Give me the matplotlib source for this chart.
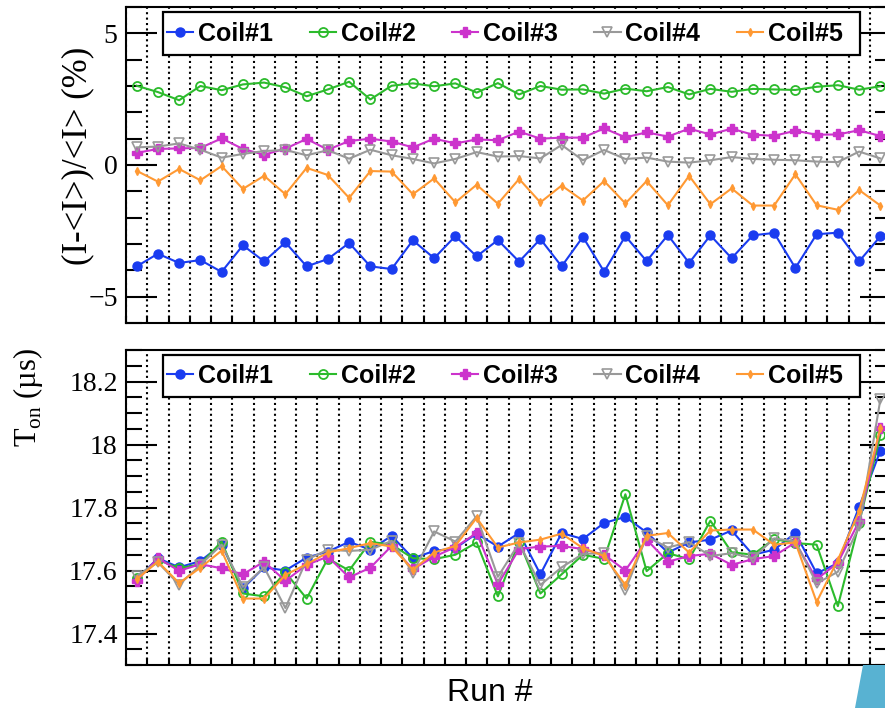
import numpy as np
import matplotlib
matplotlib.use('Agg')
import matplotlib.pyplot as plt
from matplotlib.patches import Rectangle, Polygon

plt.rcParams['font.family'] = 'Liberation Serif'
plt.rcParams['mathtext.fontset'] = 'custom'
plt.rcParams['mathtext.rm'] = 'Liberation Serif'

coils = ['Coil#1', 'Coil#2', 'Coil#3', 'Coil#4', 'Coil#5']
colors = ['#1a3cf0', '#2cbb2c', '#cc33cc', '#999999', '#ff9933']

# relative current deviation (%) per run
dev_c1 = [-3.85, -3.37, -3.72, -3.61, -4.06, -3.05, -3.66, -2.94, -3.85, -3.57, -2.96, -3.85,
          -3.95, -2.86, -3.54, -2.70, -3.47, -2.85, -3.67, -2.81, -3.85, -2.73, -4.05, -2.70,
          -3.65, -2.66, -3.72, -2.67, -3.54, -2.67, -2.58, -3.91, -2.63, -2.57, -3.66, -2.71]
dev_c2 = [3.01, 2.77, 2.46, 3.00, 2.84, 3.06, 3.13, 2.95, 2.61, 2.87, 3.16, 2.49,
          3.01, 3.10, 2.99, 3.10, 2.75, 3.11, 2.68, 3.00, 2.86, 2.87, 2.71, 2.90,
          2.80, 2.96, 2.68, 2.89, 2.78, 2.89, 2.87, 2.85, 2.97, 3.03, 2.86, 2.99]
dev_c3 = [0.46, 0.61, 0.63, 0.65, 1.01, 0.61, 0.39, 0.62, 0.99, 0.58, 0.91, 1.00,
          0.89, 0.67, 1.00, 0.82, 0.97, 0.94, 1.27, 1.00, 1.04, 1.04, 1.39, 1.05,
          1.24, 1.08, 1.38, 1.16, 1.38, 1.15, 1.11, 1.30, 1.15, 1.16, 1.32, 1.10]
dev_c4 = [0.67, 0.70, 0.82, 0.58, 0.28, 0.42, 0.53, 0.57, 0.37, 0.56, 0.24, 0.58,
          0.37, 0.23, 0.06, 0.23, 0.49, 0.32, 0.34, 0.25, 0.76, 0.18, 0.57, 0.23,
          0.28, 0.13, 0.09, 0.18, 0.30, 0.23, 0.20, 0.18, 0.13, 0.11, 0.51, 0.25]
dev_c5 = [-0.22, -0.63, -0.15, -0.58, -0.04, -0.91, -0.41, -1.11, -0.11, -0.38, -1.25, -0.23,
          -0.25, -1.11, -0.51, -1.42, -0.75, -1.47, -0.53, -1.42, -0.78, -1.35, -0.61, -1.46,
          -0.61, -1.53, -0.41, -1.49, -0.89, -1.54, -1.54, -0.35, -1.53, -1.70, -0.95, -1.54]

# T_on (us) per run
ton_c1 = [17.572, 17.639, 17.610, 17.630, 17.682, 17.543, 17.610, 17.600, 17.641, 17.660, 17.691, 17.666,
          17.710, 17.639, 17.662, 17.671, 17.717, 17.676, 17.719, 17.588, 17.719, 17.700, 17.751, 17.770,
          17.721, 17.657, 17.689, 17.698, 17.727, 17.650, 17.666, 17.719, 17.591, 17.623, 17.802, 17.980]
ton_c2 = [17.575, 17.634, 17.607, 17.620, 17.692, 17.527, 17.518, 17.594, 17.511, 17.638, 17.600, 17.691,
          17.682, 17.639, 17.636, 17.650, 17.689, 17.518, 17.692, 17.527, 17.588, 17.650, 17.637, 17.842,
          17.598, 17.655, 17.636, 17.758, 17.658, 17.650, 17.700, 17.687, 17.682, 17.487, 17.751, 18.030]
ton_c3 = [17.567, 17.639, 17.599, 17.620, 17.607, 17.588, 17.628, 17.567, 17.618, 17.644, 17.578, 17.609,
          17.678, 17.604, 17.644, 17.674, 17.719, 17.556, 17.668, 17.676, 17.678, 17.668, 17.650, 17.600,
          17.698, 17.628, 17.646, 17.653, 17.618, 17.636, 17.646, 17.689, 17.572, 17.625, 17.756, 18.052]
ton_c4 = [17.583, 17.626, 17.555, 17.618, 17.682, 17.548, 17.610, 17.481, 17.634, 17.666, 17.662, 17.666,
          17.694, 17.593, 17.724, 17.692, 17.772, 17.580, 17.687, 17.554, 17.610, 17.653, 17.655, 17.538,
          17.708, 17.673, 17.690, 17.646, 17.655, 17.639, 17.702, 17.692, 17.559, 17.596, 17.740, 18.143]
ton_c5 = [17.572, 17.628, 17.560, 17.609, 17.663, 17.511, 17.511, 17.586, 17.620, 17.657, 17.671, 17.687,
          17.676, 17.602, 17.657, 17.678, 17.767, 17.673, 17.689, 17.698, 17.717, 17.671, 17.646, 17.554,
          17.710, 17.719, 17.657, 17.727, 17.730, 17.730, 17.682, 17.689, 17.500, 17.634, 17.788, 18.052]

n_runs = len(dev_c1)
runs = np.arange(n_runs) + 0.5   # bin centres

marker_styles = [
    dict(marker='o', markersize=6.5, markerfacecolor=colors[0]),
    dict(marker='o', markersize=6.5, markerfacecolor='none', markeredgewidth=1.3),
    dict(marker='P', markersize=7.5, markerfacecolor=colors[2]),
    dict(marker='v', markersize=7, markerfacecolor='none', markeredgewidth=1.2),
    dict(marker='d', markersize=4, markerfacecolor=colors[4]),
]

fig = plt.figure(figsize=(8.85, 7.08), dpi=100)
ax1 = fig.add_axes([126/885, 1 - 323/708, 765/885, 316/708])
ax2 = fig.add_axes([126/885, 1 - 665/708, 765/885, 315/708])


def style_axes(ax, ylim, major, minor):
    ax.set_xlim(0, n_runs)
    ax.set_ylim(*ylim)
    ax.set_xticks(np.arange(0, n_runs + 1))
    ax.set_yticks(major)
    ax.set_yticks(minor, minor=True)
    ax.tick_params(axis='x', direction='in', length=5, width=1.5, labelbottom=False)
    ax.tick_params(axis='y', which='major', direction='in', length=22, width=1.5,
                   left=True, right=True, labelsize=20, pad=6)
    ax.tick_params(axis='y', which='minor', direction='in', length=11.5, width=1.5,
                   left=True, right=True)
    ax.grid(axis='x', color='black', linestyle=(0, (1, 1.6)), linewidth=1.5)
    for s in ax.spines.values():
        s.set_linewidth(1.5)


def add_legend(ax, handles, y0, y1):
    box = Rectangle((37/765, y0), 697/765, y1 - y0, transform=ax.transAxes,
                    facecolor='white', edgecolor='black', linewidth=1.6, zorder=5)
    ax.add_patch(box)
    leg = ax.legend(handles, coils, ncol=5, loc='center left',
                    bbox_to_anchor=(41/765, (y0 + y1) / 2), frameon=False,
                    prop=dict(family='Liberation Sans', weight='bold', size=18),
                    handlelength=1.05, handletextpad=0.2, columnspacing=1.45,
                    borderpad=0, borderaxespad=0)
    leg.set_zorder(6)


series_top = [dev_c1, dev_c2, dev_c3, dev_c4, dev_c5]
series_bot = [ton_c1, ton_c2, ton_c3, ton_c4, ton_c5]

h1 = []
for vals, c, ms in zip(series_top, colors, marker_styles):
    ln, = ax1.plot(runs, vals, color=c, linewidth=1.5, markeredgecolor=c, zorder=3, **ms)
    h1.append(ln)
h2 = []
for vals, c, ms in zip(series_bot, colors, marker_styles):
    ln, = ax2.plot(runs, vals, color=c, linewidth=1.5, markeredgecolor=c, zorder=3, **ms)
    h2.append(ln)

style_axes(ax1, (-6, 6), [-5, 0, 5], np.arange(-6, 7, 1))
ax1.set_yticklabels(['\u22125', '0', '5'])
style_axes(ax2, (17.3, 18.3), [17.4, 17.6, 17.8, 18.0, 18.2], np.arange(17.3, 18.31, 0.05))
ax2.set_yticklabels(['17.4', '17.6', '17.8', '18', '18.2'])

add_legend(ax1, h1, 0.848, 0.984)
add_legend(ax2, h2, 0.851, 0.984)

ax1.set_ylabel('(I-<I>)/<I> (%)', fontsize=25)
ax1.yaxis.set_label_coords(-0.042, 0.53)
ax2.set_ylabel(r'T$_{\rm on}$ (\u00b5s)'.replace('\\u00b5', '\u00b5'), fontsize=22)
ax2.yaxis.set_label_coords(-0.106, 0.85)

fig.text(490/885, 1 - 693/708, 'Run #', ha='center', va='center',
         fontsize=23, family='Liberation Sans')

# slide decoration at the lower right corner
fig.patches.append(Polygon([(863/885, 43/708), (1, 43/708), (1, 0), (855/885, 0)],
                           closed=True, transform=fig.transFigure,
                           facecolor='#58b2d2', edgecolor='none'))

fig.savefig('out.png', dpi=100)
